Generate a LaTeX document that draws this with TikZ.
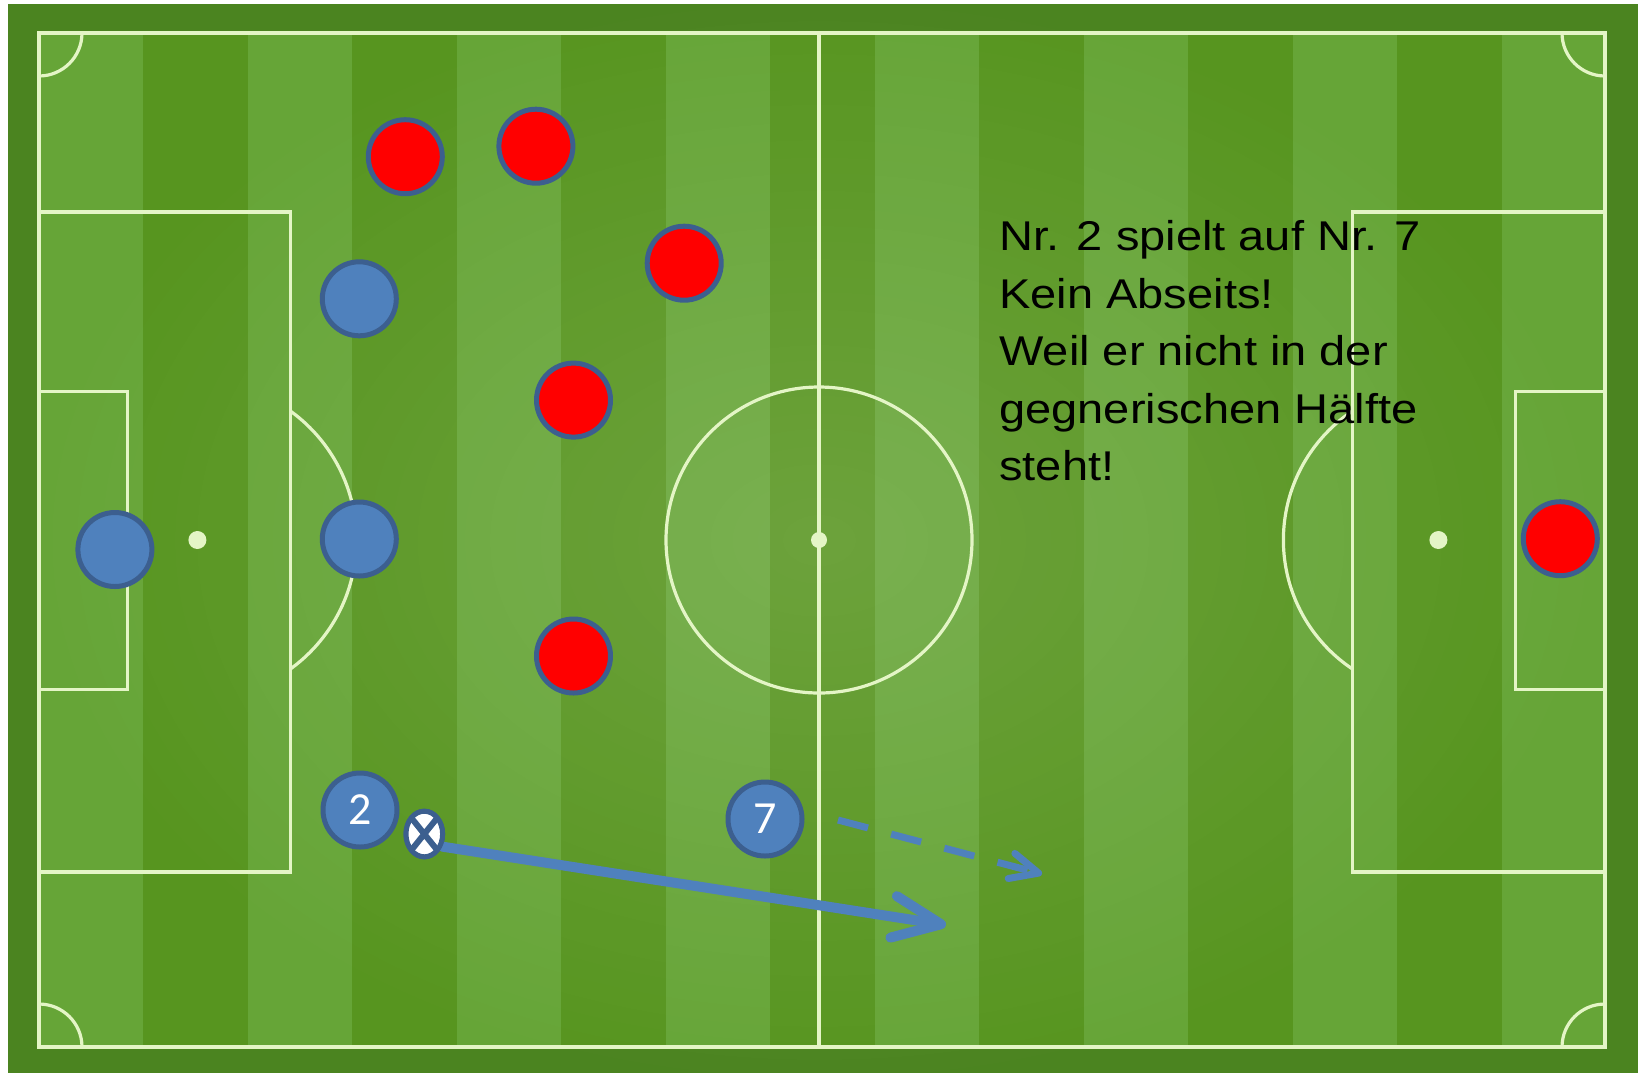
\documentclass[tikz,border=0pt]{standalone}
\usepackage{fontspec}
\setmainfont{Liberation Sans}
\newfontfamily\notefont[FakeStretch=1.13]{Liberation Sans}
\newfontfamily\numfont{Carlito}
\usetikzlibrary{arrows.meta,fadings,shapes.geometric}

\definecolor{borderg}{HTML}{4B8420}
\definecolor{lightg}{HTML}{66A537}
\definecolor{darkg}{HTML}{57951F}
\definecolor{linec}{HTML}{E4F5C6}
\definecolor{pblue}{HTML}{4F81BD}
\definecolor{pedge}{HTML}{3C5F8F}
\definecolor{pred}{HTML}{FF0000}

\tikzfading[name=glow, inner color=transparent!0, outer color=transparent!100]

\begin{document}
\begin{tikzpicture}[x=0.5pt,y=-0.5pt,
  fieldline/.style={draw=linec, line width=1.6pt},
  spot/.style={fill=linec},
  player/.style={circle, draw=pedge, line width=2.5pt, minimum size=37pt, inner sep=0pt},
  redplayer/.style={player, fill=pred},
  blueplayer/.style={player, fill=pblue},
  numbered/.style={blueplayer, text=white, font=\numfont\fontsize{23}{23}\selectfont},
  ballnode/.style={ellipse, draw=pedge, fill=white, line width=2.5pt, minimum width=18.3pt, minimum height=22.8pt, inner sep=0pt,
    path picture={\draw[pedge, line width=3pt] (path picture bounding box.north west) -- (path picture bounding box.south east)
      (path picture bounding box.north east) -- (path picture bounding box.south west);}},
  pass/.style={draw=pblue, line width=5pt, line cap=round,
    -{Straight Barb[length=24pt, width=21pt, line cap=round, line join=round]}},
  run/.style={draw=pblue, line width=3.5pt, dash pattern=on 15.5pt off 12pt,
    -{Straight Barb[length=14pt, width=13pt, line cap=round, line join=round]}},
  note/.style={anchor=north west, inner sep=0pt, align=left, text=black, font=\notefont\fontsize{20.8}{28.75}\selectfont}
]
\useasboundingbox (0,0) rectangle (1638,1073);
\fill[white] (0,0) rectangle (1638,1073);
\fill[borderg] (8,4) rectangle (1638,1073);
% stripes
\foreach \i in {0,...,14}{
  \ifodd\i \def\sc{darkg}\else\def\sc{lightg}\fi
  \fill[\sc] ({39+104.47*\i},33) rectangle ({39+104.47*(\i+1)},1047);
}
\fill[white, fill opacity=0.13, path fading=glow] (819,540) ellipse (800 and 560);

% field lines
\draw[fieldline] (39,33) rectangle (1605,1047);
\draw[fieldline] (819,33) -- (819,1047);
\draw[fieldline] (819,540) circle (153);
\draw[fieldline] (39,212) rectangle (290.4,872);
\draw[fieldline] (39,391.7) rectangle (127.4,689.4);
\draw[fieldline] (1352.8,212) rectangle (1605,872);
\draw[fieldline] (1515.7,391.7) rectangle (1605,689.4);
\begin{scope}
  \clip (290.4,0) rectangle (500,1073);
  \draw[fieldline] (197.4,540) circle (159);
\end{scope}
\begin{scope}
  \clip (1100,0) rectangle (1352.8,1073);
  \draw[fieldline] (1438.4,540) circle (155);
\end{scope}
\begin{scope}
  \clip (39,33) rectangle (1605,1047);
  \draw[fieldline] (39,33) circle (43);
  \draw[fieldline] (1605,33) circle (43);
  \draw[fieldline] (39,1047) circle (43);
  \draw[fieldline] (1605,1047) circle (43);
\end{scope}
\fill[spot] (197.4,540) circle (9);
\fill[spot] (1438.4,540) circle (9);
\fill[spot] (819,540) circle (8);

% players
\node[redplayer] (r1) at (405.3,156.7) {};
\node[redplayer] (r2) at (535.9,146.2) {};
\node[redplayer] (r3) at (684.2,263.2) {};
\node[redplayer] (r4) at (573.5,400.1) {};
\node[redplayer] (r5) at (573.5,656) {};
\node[redplayer] (r6) at (1560.3,538.7) {};
\node[blueplayer] (b1) at (359.3,298.8) {};
\node[blueplayer] (gk) at (114.9,549.5) {};
\node[blueplayer] (b3) at (359.3,539) {};
\node[numbered] (p2) at (360,810) {2};
\node[numbered] (p7) at (765,819) {7};

% passes
\coordinate (passEnd) at (946,925);
\coordinate (runStart) at (838,820);
\coordinate (runEnd) at (1042,874);
\node[ballnode] (ball) at (424.3,834) {};
\draw[pass] (ball.-35) -- (passEnd);
\node[ballnode] at (ball) {};
\draw[run] (runStart) -- (runEnd);

% note
\node[note] (txt) at (999,220) {Nr. 2 spielt auf Nr. 7\\Kein Abseits!\\Weil er nicht in der\\gegnerischen Hälfte\\steht!};
\end{tikzpicture}
\end{document}
